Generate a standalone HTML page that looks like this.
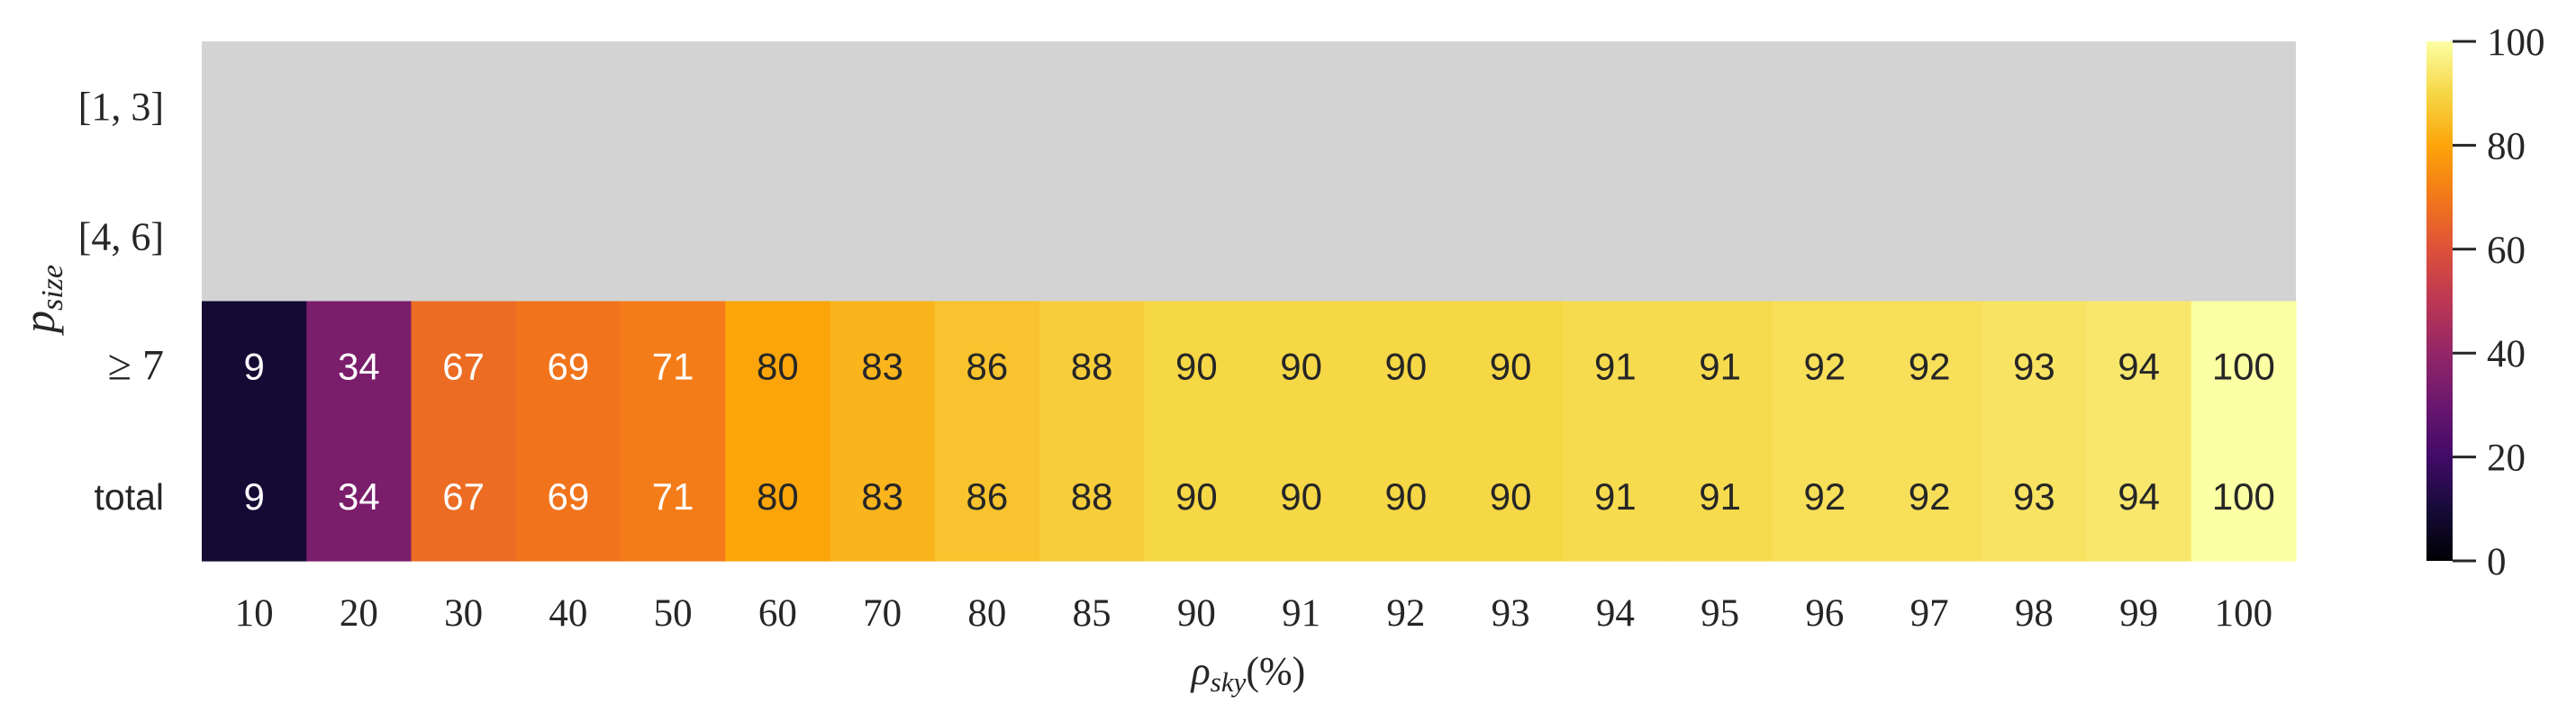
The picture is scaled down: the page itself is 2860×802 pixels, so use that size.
<!DOCTYPE html>
<html><head><meta charset="utf-8"><style>
html,body{margin:0;padding:0;background:#fff;width:2860px;height:802px;overflow:hidden}
text{font-family:"Liberation Serif",serif;fill:#262626}
.cell-val{font-family:"Liberation Sans","DejaVu Sans",sans-serif;font-size:42px}
</style></head><body>
<svg id="chart" width="2860" height="802" xmlns="http://www.w3.org/2000/svg">
<defs><linearGradient id="inf" x1="0" y1="1" x2="0" y2="0">
<stop offset="0" stop-color="#000004"/><stop offset="0.1" stop-color="#160b39"/><stop offset="0.2" stop-color="#420a68"/><stop offset="0.3" stop-color="#6a176e"/><stop offset="0.4" stop-color="#932667"/><stop offset="0.5" stop-color="#bc3754"/><stop offset="0.6" stop-color="#dd513a"/><stop offset="0.7" stop-color="#f37819"/><stop offset="0.8" stop-color="#fca50a"/><stop offset="0.9" stop-color="#f6d746"/><stop offset="1" stop-color="#fcffa4"/>
</linearGradient></defs>
<g id="cells"></g>
<g id="xt"></g>
<g id="yt"></g>
<text transform="translate(60,332) rotate(-90)" text-anchor="middle" font-size="50" font-style="italic">p<tspan font-size="34" dy="9">size</tspan></text>
<text x="1386" y="760" text-anchor="middle" font-size="44"><tspan font-style="italic">ρ</tspan><tspan font-size="31" dy="8" font-style="italic">sky</tspan><tspan dy="-8">(%)</tspan></text>
<rect x="2694" y="46" width="29" height="577" fill="url(#inf)"/>
<g id="cb"></g>
</svg>
<script>
const categories=["10","20","30","40","50","60","70","80","85","90","91","92","93","94","95","96","97","98","99","100"];
const rowLabels=["[1, 3]","[4, 6]","≥ 7","total"];
const rowGe7=[9,34,67,69,71,80,83,86,88,90,90,90,90,91,91,92,92,93,94,100];
const rowTotal=[9,34,67,69,71,80,83,86,88,90,90,90,90,91,91,92,92,93,94,100];
const cbTicks=[0,20,40,60,80,100];
const NS="http://www.w3.org/2000/svg";
const L=224,T=46,W=2325,H=577,vmin=0,vmax=100;
const cw=W/categories.length, rh=H/rowLabels.length;
const xPos=i=>L+i*cw, yPos=j=>T+j*rh;
const stops=["#000004","#160b39","#420a68","#6a176e","#932667","#bc3754","#dd513a","#f37819","#fca50a","#f6d746","#fcffa4"];
function hex(h){return [1,3,5].map(i=>parseInt(h.substr(i,2),16));}
function inferno(v){let t=(v-vmin)/(vmax-vmin)*10;t=Math.max(0,Math.min(10,t));const i=Math.min(9,Math.floor(t)),f=t-i;const a=hex(stops[i]),b=hex(stops[i+1]);return "rgb("+a.map((c,k)=>Math.round(c+(b[k]-c)*f)).join(",")+")";}
function mk(tag,attrs,parent){const e=document.createElementNS(NS,tag);for(const k in attrs)e.setAttribute(k,attrs[k]);parent.appendChild(e);return e;}
const cells=document.getElementById("cells");
const gr=mk("rect",{x:L,y:T,width:W,height:2*rh,fill:"#d3d3d3"},cells);


[rowGe7,rowTotal].forEach((row,r)=>{
  const j=r+2;
  row.forEach((v,i)=>{
    const c=mk("rect",{x:xPos(i),y:yPos(j),width:cw+0.6,height:rh+0.6,fill:inferno(v)},cells);
    
    
    const t=mk("text",{x:xPos(i)+cw/2,y:yPos(j)+rh/2+15,"text-anchor":"middle","class":"cell-val",style:"fill:"+(v<75?"#fff":"#262626")},cells);
    t.textContent=v;
    
    
  });
});
const xt=document.getElementById("xt");
categories.forEach((c,i)=>{
  const t=mk("text",{x:xPos(i)+cw/2,y:695,"text-anchor":"middle","font-size":"43"},xt);
  t.textContent=c;
  
  
});
const yt=document.getElementById("yt");
rowLabels.forEach((c,j)=>{
  const t=mk("text",{x:182,y:yPos(j)+rh/2+15,"text-anchor":"end","font-size":"44"},yt);
  if(c==="total"){t.setAttribute("style","font-family:'Liberation Sans','DejaVu Sans',sans-serif;font-size:41px");}
  if(c==="≥ 7"){t.setAttribute("font-size","48");}
  t.textContent=c;
  
  
});
const cb=document.getElementById("cb");
cbTicks.forEach(v=>{
  const y=T+H-(v-vmin)/(vmax-vmin)*H;
  const l=mk("line",{x1:2723,x2:2749,y1:y,y2:y,stroke:"#262626","stroke-width":"3"},cb);
  
  
  const t=mk("text",{x:2761,y:y+15,"font-size":"43"},cb);
  t.textContent=v;
  
  
});
</script>
</body></html>
